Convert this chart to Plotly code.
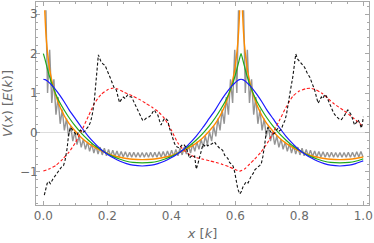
import plotly.graph_objects as go

# ---------------- data ----------------
smooth_x = [0, 0.005, 0.01, 0.015, 0.02, 0.025, 0.03, 0.04, 0.05, 0.065, 0.08, 0.1, 0.12, 0.14, 0.16, 0.18, 0.2, 0.22, 0.24, 0.26, 0.28, 0.309,
            0.338, 0.358, 0.378, 0.398, 0.418, 0.438, 0.458, 0.478, 0.498, 0.518, 0.538, 0.553, 0.568, 0.578, 0.588, 0.593, 0.598, 0.603, 0.608, 0.613, 0.618,
            0.623, 0.628, 0.633, 0.638, 0.643, 0.648, 0.658, 0.668, 0.683, 0.698, 0.718, 0.738, 0.758, 0.778, 0.798, 0.818, 0.838, 0.858, 0.878, 0.898, 0.927,
            0.956, 0.976, 0.996, 1.0]

blue_y = [1.35, 1.34, 1.32, 1.29, 1.25, 1.21, 1.17, 1.07, 0.96, 0.78, 0.58, 0.35, 0.12, -0.09, -0.27, -0.43, -0.55, -0.65, -0.73, -0.79, -0.83, -0.85,
          -0.83, -0.79, -0.73, -0.65, -0.55, -0.43, -0.27, -0.09, 0.12, 0.35, 0.58, 0.78, 0.96, 1.07, 1.17, 1.21, 1.25, 1.29, 1.32, 1.34, 1.35,
          1.34, 1.32, 1.29, 1.25, 1.21, 1.17, 1.07, 0.96, 0.78, 0.58, 0.35, 0.12, -0.09, -0.27, -0.43, -0.55, -0.65, -0.73, -0.79, -0.83, -0.85,
          -0.83, -0.79, -0.73, -0.72]

green_y = [2.00, 1.86, 1.70, 1.54, 1.40, 1.27, 1.16, 0.95, 0.78, 0.57, 0.38, 0.16, -0.03, -0.19, -0.33, -0.44, -0.54, -0.62, -0.68, -0.73, -0.76, -0.77,
           -0.76, -0.73, -0.68, -0.62, -0.54, -0.44, -0.33, -0.19, -0.03, 0.16, 0.38, 0.57, 0.78, 0.95, 1.16, 1.27, 1.40, 1.54, 1.70, 1.86, 2.00,
           1.86, 1.70, 1.54, 1.40, 1.27, 1.16, 0.95, 0.78, 0.57, 0.38, 0.16, -0.03, -0.19, -0.33, -0.44, -0.54, -0.62, -0.68, -0.73, -0.76, -0.77,
           -0.76, -0.73, -0.68, -0.67]

orange_x = [0.0044, 0.005, 0.0075, 0.01, 0.015, 0.02, 0.025, 0.03, 0.04, 0.05, 0.065, 0.08, 0.1, 0.12, 0.14, 0.16, 0.18, 0.2, 0.22, 0.24, 0.26, 0.28, 0.309,
            0.338, 0.358, 0.378, 0.398, 0.418, 0.438, 0.458, 0.478, 0.498, 0.518, 0.538, 0.553, 0.568, 0.578, 0.588, 0.593, 0.598, 0.603, 0.608, 0.6105, 0.613, 0.6136, None,
            0.6224, 0.623, 0.6255, 0.628, 0.633, 0.638, 0.643, 0.648, 0.658, 0.668, 0.683, 0.698, 0.718, 0.738, 0.758, 0.778, 0.798, 0.818, 0.838, 0.858, 0.878, 0.898, 0.927,
            0.956, 0.976, 0.996, 1.0]
orange_y = [3.10, 2.98, 2.57, 2.29, 1.88, 1.59, 1.37, 1.19, 0.91, 0.69, 0.43, 0.23, 0.03, -0.14, -0.27, -0.37, -0.46, -0.53, -0.59, -0.63, -0.66, -0.68, -0.69,
            -0.68, -0.66, -0.63, -0.59, -0.53, -0.46, -0.37, -0.27, -0.14, 0.03, 0.23, 0.43, 0.69, 0.91, 1.19, 1.37, 1.59, 1.88, 2.29, 2.57, 2.98, 3.10, None,
            3.10, 2.98, 2.57, 2.29, 1.88, 1.59, 1.37, 1.19, 0.91, 0.69, 0.43, 0.23, 0.03, -0.14, -0.27, -0.37, -0.46, -0.53, -0.59, -0.63, -0.66, -0.68, -0.69,
            -0.68, -0.66, -0.63, -0.62]

gray_x = [0.0080,
          0.0131, 0.0197, 0.0263, 0.0329, 0.0394, 0.0460, 0.0526, 0.0592, 0.0657, 0.0723, 0.0789, 0.0855, 0.0920, 0.0986, 0.1052, 0.1118,
          0.1183, 0.1249, 0.1315, 0.1381, 0.1446, 0.1512, 0.1578, 0.1644, 0.1709, 0.1775, 0.1841, 0.1907, 0.1972, 0.2038, 0.2104, 0.2170,
          0.2235, 0.2301, 0.2367, 0.2433, 0.2498, 0.2564, 0.2630, 0.2696, 0.2761, 0.2827, 0.2893, 0.2959, 0.3024, 0.3090, 0.3156, 0.3222,
          0.3287, 0.3353, 0.3419, 0.3484, 0.3550, 0.3616, 0.3682, 0.3747, 0.3813, 0.3879, 0.3945, 0.4010, 0.4076, 0.4142, 0.4208, 0.4273,
          0.4339, 0.4405, 0.4471, 0.4536, 0.4602, 0.4668, 0.4734, 0.4799, 0.4865, 0.4931, 0.4997, 0.5062, 0.5128, 0.5194, 0.5260, 0.5325,
          0.5391, 0.5457, 0.5523, 0.5588, 0.5654, 0.5720, 0.5786, 0.5851, 0.5917, 0.5983, 0.6049,
          0.6100, None, 0.6260,
          0.6312, 0.6377, 0.6443, 0.6509, 0.6575, 0.6640, 0.6706, 0.6772, 0.6837, 0.6903, 0.6969, 0.7035, 0.7100, 0.7166, 0.7232, 0.7298,
          0.7363, 0.7429, 0.7495, 0.7561, 0.7626, 0.7692, 0.7758, 0.7824, 0.7889, 0.7955, 0.8021, 0.8087, 0.8152, 0.8218, 0.8284, 0.8350,
          0.8415, 0.8481, 0.8547, 0.8613, 0.8678, 0.8744, 0.8810, 0.8876, 0.8941, 0.9007, 0.9073, 0.9138, 0.9204, 0.9270, 0.9336, 0.9401,
          0.9467, 0.9533, 0.9599, 0.9664, 0.9730, 0.9796, 0.9862, 0.9927, 0.9993]
gray_y = [3.10,
          1.00, 2.10, 0.75, 1.35, 0.45, 0.90, 0.22, 0.58, 0.05, 0.35, -0.10, 0.16, -0.22, 0.02, -0.31, -0.09,
          -0.38, -0.17, -0.43, -0.24, -0.48, -0.29, -0.52, -0.33, -0.55, -0.37, -0.57, -0.40, -0.59, -0.43, -0.60, -0.45,
          -0.61, -0.47, -0.62, -0.48, -0.62, -0.49, -0.63, -0.50, -0.63, -0.50, -0.63, -0.51, -0.63, -0.51, -0.63, -0.51,
          -0.63, -0.50, -0.63, -0.50, -0.63, -0.49, -0.62, -0.48, -0.62, -0.47, -0.61, -0.45, -0.60, -0.43, -0.59, -0.40,
          -0.57, -0.37, -0.55, -0.33, -0.52, -0.29, -0.48, -0.24, -0.43, -0.17, -0.38, -0.09, -0.31, 0.02, -0.22, 0.16,
          -0.10, 0.35, 0.05, 0.58, 0.22, 0.90, 0.45, 1.35, 0.75, 2.10, 1.00,
          3.10, None, 3.10,
          1.00, 2.10, 0.75, 1.35, 0.45, 0.90, 0.22, 0.58, 0.05, 0.35, -0.10, 0.16, -0.22, 0.02, -0.31, -0.09,
          -0.38, -0.17, -0.43, -0.24, -0.48, -0.29, -0.52, -0.33, -0.55, -0.37, -0.57, -0.40, -0.59, -0.43, -0.60, -0.45,
          -0.61, -0.47, -0.62, -0.48, -0.62, -0.49, -0.63, -0.50, -0.63, -0.50, -0.63, -0.51, -0.63, -0.51, -0.63, -0.51,
          -0.63, -0.50, -0.63, -0.50, -0.63, -0.49, -0.62, -0.48, -0.62]

red_x = [0.0, 0.02, 0.04, 0.06, 0.08, 0.10, 0.12, 0.14, 0.16, 0.18, 0.20, 0.215, 0.23, 0.25, 0.28, 0.30, 0.32, 0.34, 0.36, 0.38,
         0.40, 0.42, 0.44, 0.46, 0.48, 0.50, 0.52, 0.54, 0.56, 0.58, 0.60, 0.614, 0.63, 0.645, 0.66, 0.68, 0.70, 0.72, 0.74, 0.76,
         0.78, 0.80, 0.82, 0.835, 0.85, 0.87, 0.89, 0.91, 0.94, 0.97, 1.0]
red_y = [-0.98, -0.92, -0.83, -0.68, -0.50, -0.26, 0.05, 0.40, 0.74, 0.96, 1.08, 1.12, 1.11, 1.03, 0.92, 0.84, 0.74, 0.64, 0.52, 0.34,
         0.06, -0.26, -0.46, -0.57, -0.64, -0.68, -0.72, -0.76, -0.81, -0.87, -0.94, -0.98, -0.92, -0.80, -0.68, -0.50, -0.27, 0.02, 0.34, 0.66,
         0.92, 1.05, 1.11, 1.12, 1.09, 1.00, 0.86, 0.72, 0.55, 0.36, 0.15]

black_x = [0.003, 0.012, 0.017, 0.022, 0.030, 0.038, 0.045, 0.053, 0.058, 0.063,
           0.068, 0.074, 0.079, 0.085, 0.090, 0.095, 0.100, 0.105, 0.110, 0.116,
           0.122, 0.131, 0.137, 0.142, 0.148, 0.154, 0.159, 0.165, 0.172, 0.179,
           0.186, 0.193, 0.201, 0.206, 0.212, 0.217, 0.222, 0.228, 0.233, 0.238,
           0.244, 0.250, 0.256, 0.263, 0.269, 0.276, 0.285, 0.293, 0.300, 0.306,
           0.311, 0.316, 0.321, 0.328, 0.337, 0.342, 0.347, 0.352, 0.358, 0.363,
           0.368, 0.373, 0.379, 0.384, 0.389, 0.394, 0.399, 0.405, 0.410, 0.415,
           0.420, 0.426, 0.431, 0.436, 0.441, 0.447, 0.452, 0.457, 0.462, 0.467,
           0.473, 0.478, 0.483, 0.488, 0.494, 0.499, 0.504, 0.509, 0.514, 0.519,
           0.525, 0.530, 0.535, 0.540, 0.546, 0.551, 0.556, 0.561, 0.567, 0.572,
           0.577, 0.582, 0.588, 0.593, 0.598, 0.603, 0.608, 0.614, 0.619, 0.624,
           0.629, 0.634, 0.640, 0.645, 0.650, 0.656, 0.661, 0.666, 0.671, 0.676,
           0.681, 0.686, 0.692, 0.697, 0.702, 0.707, 0.712, 0.718, 0.723, 0.728,
           0.733, 0.738, 0.744, 0.749, 0.755, 0.760, 0.765, 0.772, 0.780, 0.789,
           0.795, 0.801, 0.808, 0.817, 0.824, 0.833, 0.840, 0.848, 0.853, 0.859,
           0.864, 0.869, 0.874, 0.880, 0.885, 0.890, 0.895, 0.900, 0.906, 0.911,
           0.916, 0.922, 0.927, 0.932, 0.937, 0.942, 0.947, 0.952, 0.958, 0.963,
           0.968, 0.973, 0.979, 0.984, 0.989, 0.994, 0.998, 1.000]
black_y = [-1.59, -1.29, -1.24, -1.30, -1.18, -1.08, -1.02, -0.91, -0.86, -0.84,
           -0.70, -0.42, -0.05, 0.13, 0.08, 0.02, -0.04, -0.08, 0.02, 0.06,
           0.00, 0.04, 0.12, 0.16, 0.28, 0.50, 0.78, 1.30, 1.97, 1.82,
           1.74, 1.70, 1.56, 1.48, 1.33, 1.22, 1.12, 1.08, 0.93, 0.76,
           0.84, 0.90, 0.86, 0.95, 0.91, 0.90, 0.74, 0.60, 0.49, 0.38,
           0.30, 0.32, 0.36, 0.38, 0.44, 0.52, 0.57, 0.50, 0.44, 0.30,
           0.19, 0.28, 0.36, 0.34, 0.30, 0.12, -0.02, -0.18, -0.28, -0.35,
           -0.38, -0.40, -0.34, -0.30, -0.32, -0.40, -0.52, -0.65, -0.60, -0.62,
           -0.60, -0.93, -0.80, -0.62, -0.45, -0.30, -0.34, -0.30, -0.34, -0.30,
           -0.30, -0.26, -0.24, -0.30, -0.36, -0.40, -0.42, -0.46, -0.58, -0.62,
           -0.66, -0.76, -0.82, -0.85, -1.00, -1.28, -1.44, -1.56, -1.50, -1.38,
           -1.30, -1.25, -1.28, -1.18, -1.10, -1.04, -0.95, -0.91, -0.86, -0.84,
           -0.80, -0.62, -0.30, 0.02, 0.13, 0.06, 0.00, -0.04, -0.02, 0.06,
           0.10, 0.04, 0.08, 0.20, 0.30, 0.46, 0.74, 1.05, 1.42, 1.99,
           1.86, 1.80, 1.72, 1.65, 1.52, 1.40, 1.25, 1.08, 0.92, 0.74,
           0.82, 0.90, 0.86, 0.97, 0.92, 0.82, 0.70, 0.61, 0.52, 0.45,
           0.40, 0.36, 0.32, 0.33, 0.38, 0.44, 0.52, 0.57, 0.50, 0.44,
           0.30, 0.19, 0.26, 0.32, 0.24, 0.11, 0.25, 0.40]

x_ticks = [0, 0.2, 0.4, 0.6, 0.8, 1.0]
x_ticktext = ["0.0", "0.2", "0.4", "0.6", "0.8", "1.0"]
y_ticks = [-1, 0, 1, 2, 3]
y_ticktext = ["\u22121", "0", "1", "2", "3"]

# ---------------- figure ----------------
FONT = "DejaVu Sans"
TXT = "#6b6b6b"
FRAME = "#a8a8a8"

fig = go.Figure()
fig.add_trace(go.Scatter(x=gray_x, y=gray_y, mode="lines", connectgaps=False,
                         line=dict(color="#959595", width=1.4)))
fig.add_trace(go.Scatter(x=orange_x, y=orange_y, mode="lines", connectgaps=False,
                         line=dict(color="#ff8c00", width=1.4, shape="spline", smoothing=0.6)))
fig.add_trace(go.Scatter(x=smooth_x, y=green_y, mode="lines",
                         line=dict(color="#1fa81f", width=1.2, shape="spline", smoothing=0.6)))
fig.add_trace(go.Scatter(x=smooth_x, y=blue_y, mode="lines",
                         line=dict(color="#1a1aff", width=1.2, shape="spline", smoothing=0.6)))
fig.add_trace(go.Scatter(x=red_x, y=red_y, mode="lines",
                         line=dict(color="#ff1a1a", width=1.1, dash="3px,2px", shape="spline", smoothing=0.6)))
fig.add_trace(go.Scatter(x=black_x, y=black_y, mode="lines",
                         line=dict(color="#111111", width=1.1, dash="3px,2px")))

axis_common = dict(showline=True, linecolor=FRAME, linewidth=1, mirror="allticks",
                   ticks="inside", ticklen=4, tickcolor=FRAME, tickwidth=1,
                   showgrid=False, tickfont=dict(family=FONT, size=12, color=TXT))

fig.update_layout(
    width=374, height=243,
    margin=dict(l=36, r=5, t=2, b=38),
    paper_bgcolor="white", plot_bgcolor="white",
    showlegend=False,
    xaxis=dict(range=[-0.023, 1.018], tickvals=x_ticks, ticktext=x_ticktext,
               zeroline=False,
               minor=dict(tick0=0, dtick=0.05, ticks="inside", ticklen=2, tickcolor=FRAME),
               title=dict(text="<i>x</i> [<i>k</i>]", standoff=6,
                          font=dict(family=FONT, size=13, color=TXT)),
               automargin=False, **axis_common),
    yaxis=dict(range=[-1.84, 3.31], tickvals=y_ticks, ticktext=y_ticktext,
               zeroline=True, zerolinecolor="#dddddd", zerolinewidth=1,
               minor=dict(tick0=0, dtick=0.2, ticks="inside", ticklen=2, tickcolor=FRAME),
               ticklabelstandoff=-5,
               title=dict(text="<i>V</i>(<i>x</i>) [<i>E</i>(<i>k</i>)]", standoff=6,
                          font=dict(family=FONT, size=13, color=TXT)),
               automargin=False, **axis_common),
)

fig.write_html("out.html", config={"displayModeBar": False},
               post_script="document.body.style.margin='0';document.body.style.padding='0';")
